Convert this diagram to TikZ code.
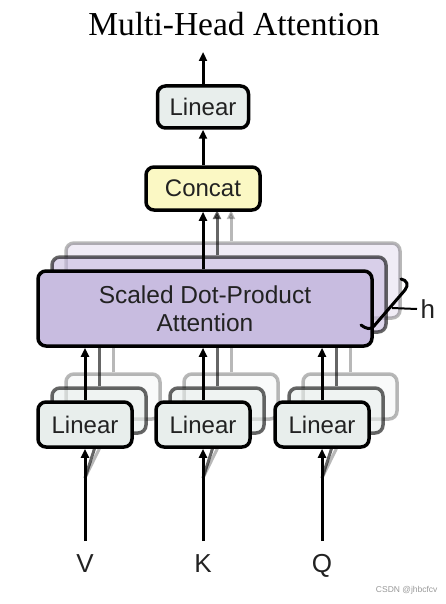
\documentclass[tikz,border=0pt]{standalone}
\usepackage{fontspec}
\setmainfont{Liberation Sans}
\newfontfamily\titlefont{Liberation Serif}
\usetikzlibrary{arrows.meta}
\definecolor{linfill}{HTML}{E8EEEC}
\definecolor{catfill}{HTML}{FBF8C4}
\definecolor{attfill}{HTML}{C8BCE0}
\definecolor{txt}{HTML}{222222}
\tikzset{
  boxbase/.style={draw=black, line width=3.5pt, rounded corners=8pt, inner sep=0pt, text=txt, font=\fontsize{24}{28}\selectfont},
  linbox/.style={boxbase, fill=linfill, minimum width=94pt, minimum height=45pt},
  attbox/.style={boxbase, fill=attfill, minimum width=334pt, minimum height=75pt, align=center, font=\fontsize{24.5}{28}\selectfont},
  catbox/.style={boxbase, fill=catfill, minimum width=114pt, minimum height=43pt},
  toplin/.style={boxbase, fill=linfill, minimum width=91pt, minimum height=42pt},
  arr/.style={line width=3pt, -{Triangle[length=9pt,width=8pt]}},
  layerB/.style={opacity=0.6},
  layerC/.style={opacity=0.28},
  lbl/.style={text=txt, font=\fontsize{26}{28}\selectfont}
}
\begin{document}
\begin{tikzpicture}[x=1pt,y=-1pt]
\useasboundingbox (0,0) rectangle (446,604);
% title
\node[font=\titlefont\fontsize{33.5}{36}\selectfont, anchor=base] (title) at (234,36) {Multi-Head Attention};

% ---------- back layer (offset +28,-28)
\begin{scope}[layerC]
  \node[attbox] (attC) at (233,280.5) {};
  \node[linbox] (l1C) at (113,396.5) {};
  \node[linbox] (l2C) at (231,396.5) {};
  \node[linbox] (l3C) at (350,396.5) {};
  \coordinate (v0) at (85,478);
  \coordinate (k0) at (203,478);
  \coordinate (q0) at (322,478);
  \draw[arr] (v0) -- (l1C.south);
  \draw[arr] (k0) -- (l2C.south);
  \draw[arr] (q0) -- (l3C.south);
  \draw[arr] (l1C.north) -- (l1C.north |- attC.south);
  \draw[arr] (l2C.north) -- (l2C.north |- attC.south);
  \draw[arr] (l3C.north) -- (l3C.north |- attC.south);
  \coordinate (cC) at (231,210);
  \draw[arr] (attC.north -| cC) -- (cC);
\end{scope}
% ---------- middle layer (offset +14,-14)
\begin{scope}[layerB]
  \node[attbox] (attB) at (219,294.5) {};
  \node[linbox] (l1B) at (99,410.5) {};
  \node[linbox] (l2B) at (217,410.5) {};
  \node[linbox] (l3B) at (336,410.5) {};
  \draw[arr] (v0) -- (l1B.south);
  \draw[arr] (k0) -- (l2B.south);
  \draw[arr] (q0) -- (l3B.south);
  \draw[arr] (l1B.north) -- (l1B.north |- attB.south);
  \draw[arr] (l2B.north) -- (l2B.north |- attB.south);
  \draw[arr] (l3B.north) -- (l3B.north |- attB.south);
  \coordinate (cB) at (217,210);
  \draw[arr] (attB.north -| cB) -- (cB);
\end{scope}
% ---------- front layer
\node[attbox] (att) at (205,308.5) {Scaled Dot-Product\\Attention};
\node[linbox] (l1) at (85,424.5) {Linear};
\node[linbox] (l2) at (203,424.5) {Linear};
\node[linbox] (l3) at (322,424.5) {Linear};
\node[catbox] (cat) at (203,188.5) {Concat};
\node[toplin] (lin) at (203,107) {Linear};
\coordinate (out) at (203,52);

\node[lbl, anchor=base] (V) at (85,572) {V};
\node[lbl, anchor=base] (K) at (203,572) {K};
\node[lbl, anchor=base] (Q) at (322,572) {Q};
\coordinate (vs) at (85,541);
\coordinate (ks) at (203,541);
\coordinate (qs) at (322,541);

\draw[arr] (vs) -- (l1.south);
\draw[arr] (ks) -- (l2.south);
\draw[arr] (qs) -- (l3.south);
\draw[arr] (l1.north) -- (l1.north |- att.south);
\draw[arr] (l2.north) -- (l2.north |- att.south);
\draw[arr] (l3.north) -- (l3.north |- att.south);
\draw[arr] (att.north -| cat.south) -- (cat.south);
\draw[arr] (cat.north) -- (lin.south);
\draw[arr] (lin.north) -- (out);

% h brace
\draw[line width=3pt, line cap=round] (401,279) .. controls (407,280) and (409,285) .. (405,290) -- (374,326) .. controls (371,330) and (366,329) .. (361,325);
\coordinate (hb) at (392,308);
\node[lbl, anchor=west] (h) at (417,309) {h};
\draw[line width=2pt] (hb) -- (h.west);

% watermark
\node[text=black!40, font=\fontsize{8.5}{10}\selectfont, anchor=east] (wm) at (441,590) {CSDN @jhbcfcv};
\end{tikzpicture}
\end{document}
